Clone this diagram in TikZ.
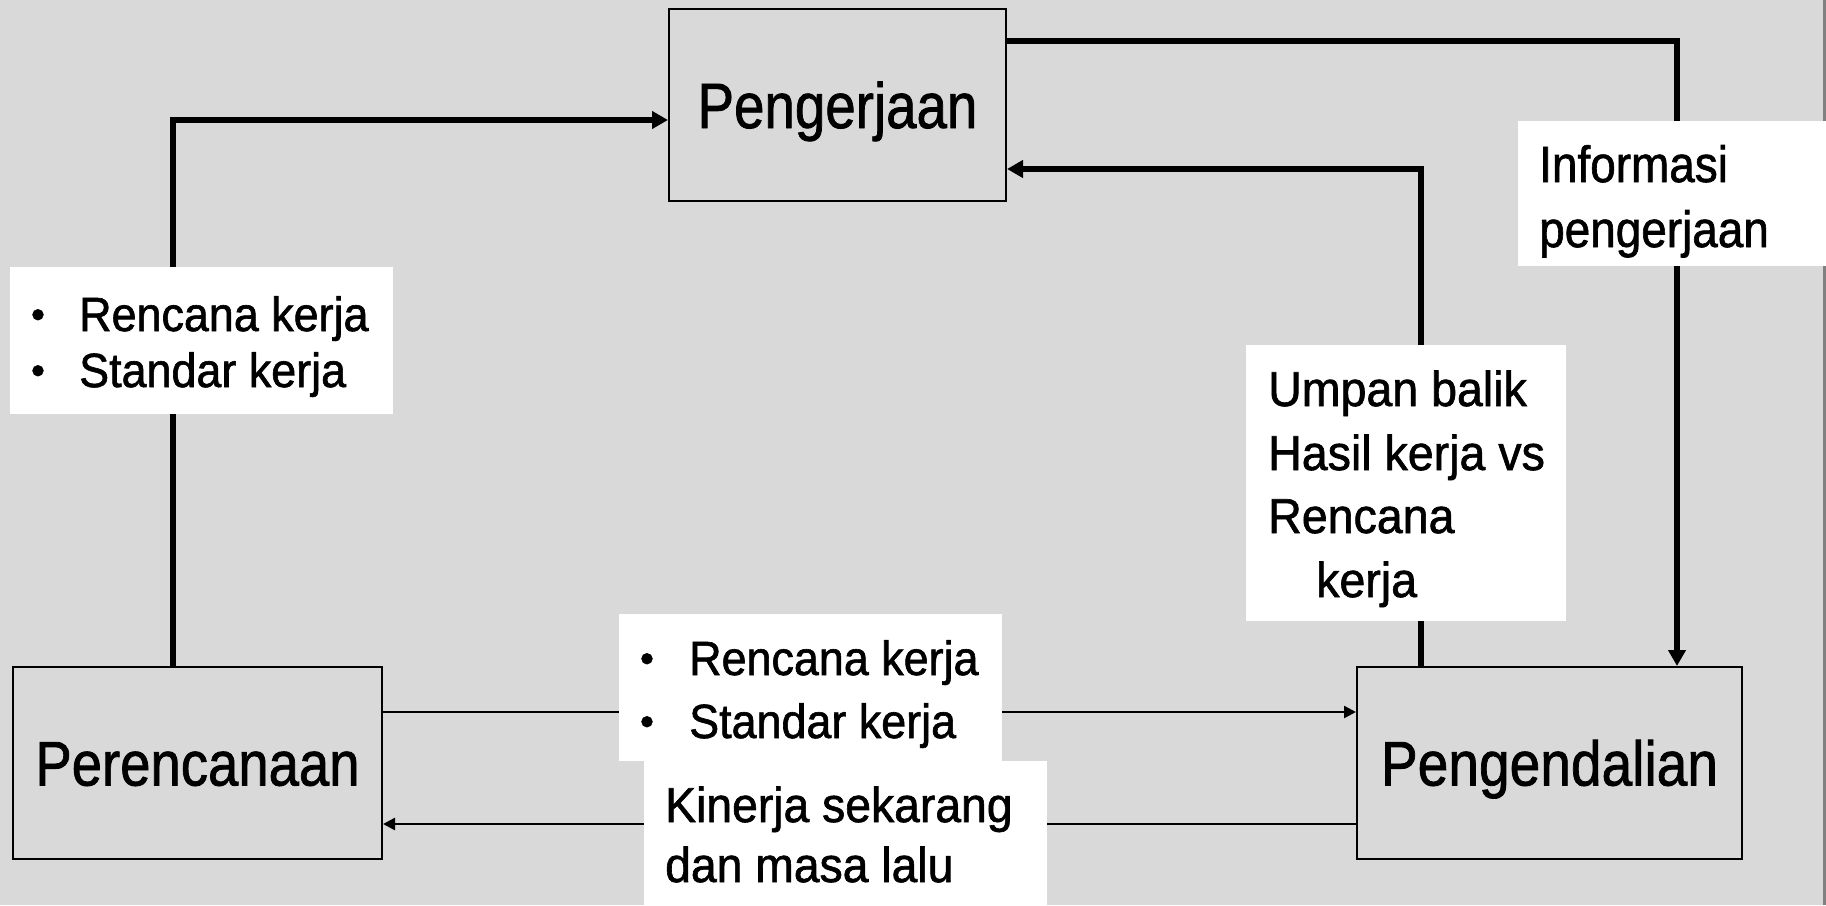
\documentclass[tikz,border=0pt]{standalone}
\usepackage{graphicx}
\usepackage{fontspec}
\setmainfont{Liberation Sans}[FakeBold=1.3]
\usetikzlibrary{arrows.meta}
\definecolor{bg}{HTML}{D9D9D9}
\definecolor{edgegray}{HTML}{808080}
\newcommand{\hs}[2]{\scalebox{#1}[1]{#2}}
\newcommand{\fsz}[1]{\fontsize{#1}{#1}\selectfont}
\begin{document}
\begin{tikzpicture}[x=1pt,y=-1pt,
  box/.style={draw=black, line width=2pt, fill=bg, inner sep=0pt, text depth=0pt},
  heavy/.style={line width=5.5pt, -{Triangle[length=16pt,width=17pt]}},
  light/.style={line width=2.4pt, -{Triangle[length=12pt,width=12pt]}},
  lab/.style={fill=white, draw=none, inner sep=0pt, anchor=north west},
  txt/.style={inner sep=0pt, anchor=base west},
  bul/.style={inner sep=0pt, anchor=base, font={\fsz{40}}}
]
\useasboundingbox (0,0) rectangle (1826,905);
\fill[bg] (0,0) rectangle (1826,905);
\draw[edgegray, line width=3pt] (1824.5,0) -- (1824.5,905);

% main boxes
\node[box, minimum width=337pt, minimum height=192pt, text height=46pt, font={\fsz{64}}] (peng) at (837.5,105) {\hs{0.855}{Pengerjaan}};
\node[box, minimum width=369pt, minimum height=192pt, text height=45pt, font={\fsz{63}}] (plan) at (197.5,763) {\hs{0.865}{Perencanaan}};
\node[box, minimum width=385pt, minimum height=192pt, text height=45pt, font={\fsz{63}}] (ctrl) at (1549.5,763) {\hs{0.875}{Pengendalian}};

% connector bends
\coordinate (a1) at (173,120);
\coordinate (c1) at (1677,41);
\coordinate (c2) at (1421,169);
\coordinate (c3) at (0,712);
\coordinate (c4) at (0,824);

\draw[heavy] (plan.north -| a1) |- (peng.west |- a1);
\draw[heavy] (peng.east |- c1) -| (ctrl.north -| c1);
\draw[heavy] (ctrl.north -| c2) |- (peng.east |- c2);
\draw[light] (plan.east |- c3) -- (ctrl.west |- c3);
\draw[light] (ctrl.west |- c4) -- (plan.east |- c4);

% label 1 (left)
\node[lab, minimum width=383pt, minimum height=147pt] (l1) at (10,267) {};
\node[bul] (l1b1) at (38,328) {•};
\node[bul] (l1b2) at (38,384) {•};
\node[txt, font={\fsz{48}}] (l1t1) at (79,331) {\hs{0.935}{Rencana kerja}};
\node[txt, font={\fsz{48}}] (l1t2) at (79,387) {\hs{0.935}{Standar kerja}};

% label 2 (bottom middle)
\node[lab, minimum width=383pt, minimum height=147pt] (l2) at (619,614) {};
\node[bul] (l2b1) at (647,672) {•};
\node[bul] (l2b2) at (647,735) {•};
\node[txt, font={\fsz{48}}] (l2t1) at (689,675) {\hs{0.935}{Rencana kerja}};
\node[txt, font={\fsz{48}}] (l2t2) at (689,738) {\hs{0.935}{Standar kerja}};

% label 3 (Kinerja)
\node[lab, minimum width=403pt, minimum height=144pt] (l3) at (644,761) {};
\node[txt, font={\fsz{49}}] (l3t1) at (665,822) {\hs{0.945}{Kinerja sekarang}};
\node[txt, font={\fsz{49}}] (l3t2) at (665,882) {\hs{0.945}{dan masa lalu}};

% label 4 (Umpan balik)
\node[lab, minimum width=320pt, minimum height=276pt] (l4) at (1246,345) {};
\node[txt, font={\fsz{49}}] (l4t1) at (1268,406) {\hs{0.95}{Umpan balik}};
\node[txt, font={\fsz{49}}] (l4t2) at (1268,470) {\hs{0.95}{Hasil kerja vs}};
\node[txt, font={\fsz{49}}] (l4t3) at (1268,533) {\hs{0.95}{Rencana}};
\node[txt, font={\fsz{49}}] (l4t4) at (1316,597) {\hs{0.95}{kerja}};

% label 5 (Informasi)
\node[lab, minimum width=308pt, minimum height=145pt] (l5) at (1518,121) {};
\node[txt, font={\fsz{51}}] (l5t1) at (1539,182) {\hs{0.9}{Informasi}};
\node[txt, font={\fsz{51}}] (l5t2) at (1539,247) {\hs{0.9}{pengerjaan}};
\end{tikzpicture}
\end{document}
